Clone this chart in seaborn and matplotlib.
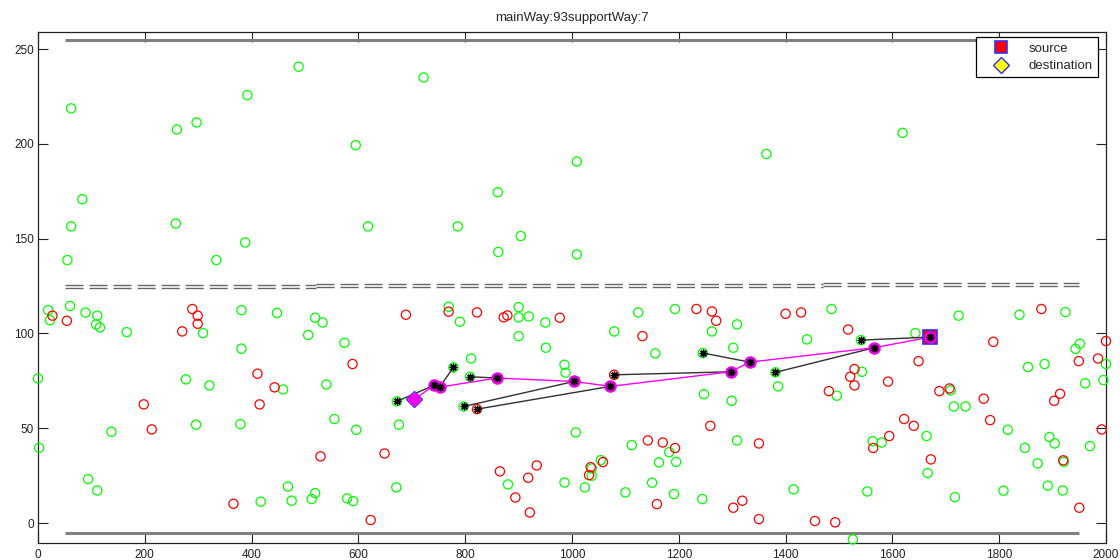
import numpy as np
import pandas as pd
import seaborn as sns
import matplotlib
matplotlib.use("Agg")
import matplotlib.pyplot as plt
from matplotlib.lines import Line2D

# ---------------- data ----------------
title_text = "mainWay:93supportWay:7"
x_ticks = [0, 200, 400, 600, 800, 1000, 1200, 1400, 1600, 1800, 2000]
y_ticks = [0, 50, 100, 150, 200, 250]

green_x = [62, 488, 722, 392, 297, 260, 595, 1619, 1364, 1009, 83, 861, 62, 258, 618, 786, 904, 388, 862, 1009, 55, 334,
           19, 22.5, 60, 89, 111, 109, 116, 166, 0, 2, 137.5, 94, 111, 277, 296, 321, 309, 381, 381, 379, 447.5, 417,
           459, 468, 475, 506, 519, 533, 519, 512.5, 540, 555, 574, 579, 590, 596, 671, 676, 672,
           769, 790, 811, 900, 900, 919, 900, 950, 951, 986, 988, 1007, 986, 1024, 880, 1037, 1037, 1054, 1079, 1124,
           1156, 1112, 1100, 1150, 1163, 1182, 1195, 1191, 1193, 1247, 1262, 1302, 1309, 1299, 1309, 1244, 1386, 1415,
           1440, 809, 778, 797, 1245, 1381,
           1486, 1643, 1724, 1838, 1924, 1951, 1943, 1543, 1496, 1709, 1715, 1737, 1854, 1885, 1961, 2000, 1995, 1563,
           1580, 1664, 1666, 1816, 1848, 1894, 1904, 1872, 1921, 1970, 1553, 1717, 1808, 1891, 1919, 1526, 1541]
green_y = [218.7, 240.7, 235, 225.7, 211.3, 207.6, 199.3, 205.8, 194.7, 190.7, 170.8, 174.5, 156.5, 158, 156.5, 156.5,
           151.4, 148, 143, 141.7, 138.7, 138.7,
           112.3, 107, 114.5, 111, 109.4, 104.8, 103.2, 100.7, 76.3, 39.7, 48.2, 23.2, 17.2, 75.8, 51.9, 72.6, 100.2,
           112.3, 92, 52.2, 110.8, 11.3, 70.5, 19.3, 11.8, 99.2, 108.3, 105.8, 15.8, 12.7, 73.1, 54.9, 95.1, 13, 11.6,
           49.2, 18.8, 51.9, 64.2,
           114.1, 106.2, 86.8, 113.9, 108.5, 109, 98.6, 105.8, 92.5, 83.5, 79.3, 47.8, 21.4, 18.8, 20.4, 28.8, 25, 33.2,
           101.1, 111.1, 89.5, 41.1, 16.2, 21.3, 32, 37.4, 32.3, 15.3, 112.9, 68, 101.1, 92.5, 104.8, 64.5, 43.6, 12.7,
           72.1, 17.8, 96.9, 77.2, 82.1, 61.5, 89.7, 79.5,
           112.9, 100.2, 109.4, 109.9, 111.3, 94.6, 91.9, 79.8, 67.2, 70, 61.5, 61.5, 82.3, 83.9, 73.7, 83.9, 75.4, 43.2,
           42.5, 45.9, 26.4, 49.2, 39.7, 45.4, 42, 31.5, 32.3, 40.6, 16.7, 13.7, 17.1, 19.7, 17.2, -8.6, 96.5]

red_x = [27, 54, 198, 213, 270, 289, 299, 299, 411, 415, 443, 366, 529, 589, 623, 649, 689,
         769, 822, 872, 879, 977, 865, 894, 918, 934, 921, 1035, 1032, 1058, 1132, 1142, 1170, 1193, 1159, 1233, 1262,
         1270, 1259, 1302, 1319, 1350, 1350, 1400, 1429, 1455, 822, 1079,
         1517, 1789, 1879, 2000, 1985, 1949, 1649, 1529, 1521, 1529, 1481, 1592, 1688, 1707, 1771, 1914, 1903, 1622,
         1640, 1783, 1992, 1594, 1564, 1672, 1920, 1950, 1493]
red_y = [109.4, 106.7, 62.6, 49.4, 101.1, 112.9, 109.4, 105.1, 78.8, 62.6, 71.6, 10.2, 35.2, 83.9, 1.6, 36.7, 109.9,
         111.5, 111.1, 108.5, 109.5, 108.3, 27.3, 13.5, 23.9, 30.4, 5.6, 29.5, 25.3, 32.2, 98.6, 43.6, 42.5, 39.6, 10,
         112.9, 111.6, 106.7, 51.3, 8.1, 11.8, 42, 2.1, 110.4, 111.1, 1.1, 60.1, 78.2,
         102.1, 95.6, 112.9, 96, 86.8, 85.4, 85.4, 81.2, 77.2, 72.6, 69.6, 74.6, 69.6, 71, 65.6, 68.2, 64.5, 54.9, 51.3,
         54.3, 49.4, 45.9, 39.6, 33.6, 33.1, 8.1, 0.4]

# main way (source -> destination)
main_x = [1671, 1566, 1333, 1297, 1072, 1004, 859, 752, 741, 705]
main_y = [98.1, 92.5, 84.9, 79.8, 72.1, 74.7, 76.5, 71.7, 72.6, 65.2]

# support ways: from support node to main node
sup_from_x = [1541, 1381, 1245, 1079, 822, 797, 809, 778, 672]
sup_from_y = [96.5, 79.5, 89.7, 78.2, 60.1, 61.5, 77.2, 82.1, 64.2]
sup_to_x = [1671, 1566, 1333, 1297, 1072, 1004, 859, 752, 741]
sup_to_y = [98.1, 92.5, 84.9, 79.8, 72.1, 74.7, 76.5, 71.7, 72.6]

# road borders and lane markings
border_y = [255, -5]
border_x0, border_x1 = 50, 1950
lane_x0 = [50, 520, 1470]
lane_x1 = [520, 1470, 1950]
lane_y_low = [123.8, 124.3, 124.8]
lane_y_high = [125.6, 126.1, 126.6]

legend_labels = ["source", "destination"]

# ---------------- plotting ----------------
sns.set_style("ticks")
plt.rcParams['font.family'] = ['Liberation Sans', 'DejaVu Sans']
plt.rcParams['xtick.direction'] = 'in'
plt.rcParams['ytick.direction'] = 'in'

fig = plt.figure(figsize=(11.2, 5.6), dpi=100)
ax = fig.add_axes([38 / 1120, 17 / 560, 1068 / 1120, 511 / 560])

# road borders
ax.hlines(border_y, border_x0, border_x1, colors='#808080', linewidth=2.2, zorder=1)
# lane markings (double dashed)
for x0, x1, yl, yh in zip(lane_x0, lane_x1, lane_y_low, lane_y_high):
    ax.hlines([yl, yh], x0, x1, colors='#666666', linewidth=1.0,
              linestyles=[(0, (13, 4.3))], zorder=1)

# nodes
nodes = pd.DataFrame({
    "x": green_x + red_x,
    "y": green_y + red_y,
    "kind": ["green"] * len(green_x) + ["red"] * len(red_x),
})
pal = {"green": "#00ff00", "red": "#ff0000"}
for kind in ["green", "red"]:
    sub = nodes[nodes.kind == kind]
    sns.scatterplot(data=sub, x="x", y="y", color=pal[kind], s=44, marker="o",
                    linewidth=0.9, legend=False, ax=ax, zorder=3, clip_on=False)
    coll = ax.collections[-1]
    coll.set_facecolor("none")
    coll.set_edgecolor(pal[kind])

# support ways
sup = pd.DataFrame({
    "x": [v for pair in zip(sup_from_x, sup_to_x) for v in pair],
    "y": [v for pair in zip(sup_from_y, sup_to_y) for v in pair],
    "seg": [i for i in range(len(sup_from_x)) for _ in range(2)],
})
sns.lineplot(data=sup, x="x", y="y", units="seg", estimator=None, sort=False,
             color="#303030", linewidth=1.0, ax=ax, zorder=4, legend=False)

# main way
main = pd.DataFrame({"x": main_x, "y": main_y})
sns.lineplot(data=main, x="x", y="y", sort=False, color="#ff00ff", linewidth=1.0,
             ax=ax, zorder=4, legend=False)

# source / destination markers
ax.plot(main_x[0], main_y[0], marker="s", ms=9.5, mfc="#ff0000", mec="#3030ff", mew=1.2, ls="none", zorder=5)
ax.plot(main_x[-1], main_y[-1], marker="D", ms=8.5, mfc="#ffff00", mec="#3030ff", mew=1.0, ls="none", zorder=5)
# main-way nodes
ax.plot(main_x, main_y, marker="o", ms=8, mfc="#ee00ee", mec="#ee00ee", ls="none", zorder=6)
# asterisks on all path nodes
ax.plot(main_x[:-1] + sup_from_x, main_y[:-1] + sup_from_y, marker=(8, 2, 0), ms=5.5, mec="black",
        mew=1.0, ls="none", zorder=7)

ax.set_xlim(0, 2000)
ax.set_ylim(-10.5, 259)
ax.set_xticks(x_ticks)
ax.set_yticks(y_ticks)
ax.set_xlabel("")
ax.set_ylabel("")
ax.tick_params(axis="both", which="both", direction="in", length=7, width=0.8,
               top=True, right=True, labelsize=8.5, pad=3, colors="#222222")
ax.tick_params(axis="x", pad=4)
for s in ax.spines.values():
    s.set_visible(True)
    s.set_color("#222222")
    s.set_linewidth(0.9)

ax.set_title(title_text, fontsize=9.5, pad=8)

handles = [
    Line2D([], [], marker="s", ms=9, mfc="#ff0000", mec="#3030ff", mew=1.2, ls="none"),
    Line2D([], [], marker="D", ms=8, mfc="#ffff00", mec="#3030ff", mew=1.0, ls="none"),
]
leg = ax.legend(handles, legend_labels, loc="upper right", bbox_to_anchor=(0.9925, 0.99),
                fontsize=9.5, frameon=True, fancybox=False, framealpha=1,
                edgecolor="black", handlelength=3.0, handletextpad=0.6,
                labelspacing=0.4, borderpad=0.4, borderaxespad=0)
leg.get_frame().set_linewidth(0.9)

fig.savefig("out.png", dpi=100, facecolor="white")
